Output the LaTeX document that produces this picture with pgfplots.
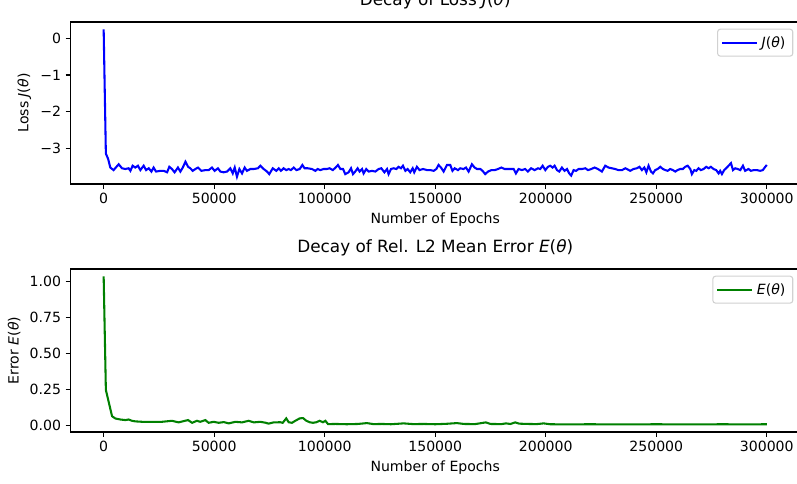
\documentclass[border=0pt]{standalone}
\usepackage{pgfplots}
\pgfplotsset{compat=1.18}
\usepackage{pgfplotstable}
\usepackage{fontspec}
\setmainfont{DejaVu Sans}
\definecolor{mplgreen}{RGB}{0,128,0}
\definecolor{mplblue}{RGB}{0,0,255}

\pgfplotstableread{
x y
0 0.25
1000 -3.15
2000 -3.29
3000 -3.53
4500 -3.60
6800 -3.44
8300 -3.55
9800 -3.57
11300 -3.55
12100 -3.62
13100 -3.48
14300 -3.53
15500 -3.48
16600 -3.60
18100 -3.48
19200 -3.60
20400 -3.55
21600 -3.64
22600 -3.53
23700 -3.64
25600 -3.62
27200 -3.62
28700 -3.66
29700 -3.51
30900 -3.57
32100 -3.66
33600 -3.53
34700 -3.64
35800 -3.53
37000 -3.37
38200 -3.51
39200 -3.55
40300 -3.62
41500 -3.57
42700 -3.53
44200 -3.62
46000 -3.60
47500 -3.60
49000 -3.53
50200 -3.62
51700 -3.55
52800 -3.64
54300 -3.66
55800 -3.64
57300 -3.55
58400 -3.69
59300 -3.53
60300 -3.78
61400 -3.57
62600 -3.69
63800 -3.53
64800 -3.62
66400 -3.57
67900 -3.57
69800 -3.55
70900 -3.48
72400 -3.57
73900 -3.64
74900 -3.71
76500 -3.55
78100 -3.62
79200 -3.55
80200 -3.62
81400 -3.55
82600 -3.60
83700 -3.57
84700 -3.60
86000 -3.53
87200 -3.60
88700 -3.57
89900 -3.46
90900 -3.55
92300 -3.55
94200 -3.57
95800 -3.62
96800 -3.57
98000 -3.60
99500 -3.57
101000 -3.57
102200 -3.55
103700 -3.60
104900 -3.53
106000 -3.46
107100 -3.57
108300 -3.57
109300 -3.71
110800 -3.66
111900 -3.55
112800 -3.71
113800 -3.64
114900 -3.55
115800 -3.64
116900 -3.57
117600 -3.69
118800 -3.57
119900 -3.64
121400 -3.62
122900 -3.64
124400 -3.57
125600 -3.55
127000 -3.66
128200 -3.57
128900 -3.71
130000 -3.57
131200 -3.55
132400 -3.57
133400 -3.51
134500 -3.55
135400 -3.48
136500 -3.62
137500 -3.57
138700 -3.66
139800 -3.55
140500 -3.66
141700 -3.51
142900 -3.60
144500 -3.57
146300 -3.60
147800 -3.60
149300 -3.62
150500 -3.57
151500 -3.46
152600 -3.53
153800 -3.64
155300 -3.46
156800 -3.46
157800 -3.62
158800 -3.55
160300 -3.60
161300 -3.55
162800 -3.57
163900 -3.53
165100 -3.64
166600 -3.44
167800 -3.53
168900 -3.57
170400 -3.57
171400 -3.62
172600 -3.71
173900 -3.64
175400 -3.60
176900 -3.60
178400 -3.57
179900 -3.53
181400 -3.57
183200 -3.57
185500 -3.57
186500 -3.69
187700 -3.57
189200 -3.60
190700 -3.57
191900 -3.64
193400 -3.55
195000 -3.60
196500 -3.55
197500 -3.57
198600 -3.48
199800 -3.60
201000 -3.51
202000 -3.48
203100 -3.53
204000 -3.48
205100 -3.60
206100 -3.64
207300 -3.53
208500 -3.62
209600 -3.57
210600 -3.69
211500 -3.75
212600 -3.60
213700 -3.62
214900 -3.57
216400 -3.57
217900 -3.55
219100 -3.60
220600 -3.57
222100 -3.53
223600 -3.57
225400 -3.64
226900 -3.48
228400 -3.53
229900 -3.55
231400 -3.57
232900 -3.60
234500 -3.60
236000 -3.55
236700 -3.57
238200 -3.62
239700 -3.57
241200 -3.55
242400 -3.51
243500 -3.60
244600 -3.53
245500 -3.66
246500 -3.48
247600 -3.64
248500 -3.69
249500 -3.60
250600 -3.57
251800 -3.51
253000 -3.57
254100 -3.60
255100 -3.62
256300 -3.57
257500 -3.60
258600 -3.64
259600 -3.60
260800 -3.57
262000 -3.57
263100 -3.51
264200 -3.48
265400 -3.57
266100 -3.71
267200 -3.60
268100 -3.62
269100 -3.55
270200 -3.60
271400 -3.57
272600 -3.51
273700 -3.55
274700 -3.51
275900 -3.57
277100 -3.60
278200 -3.69
278900 -3.62
279700 -3.71
280700 -3.60
281600 -3.55
282700 -3.48
283800 -3.41
284700 -3.60
285700 -3.55
286800 -3.57
288000 -3.60
289200 -3.48
290200 -3.62
291700 -3.57
292800 -3.62
294000 -3.60
295500 -3.60
297000 -3.62
298200 -3.60
299300 -3.51
300000 -3.46
}\lossdata

\pgfplotstableread{
x y
0 1.035
1000 0.245
3800 0.062
5300 0.046
7600 0.039
9800 0.035
11300 0.039
12800 0.030
14300 0.026
17400 0.023
20400 0.023
23400 0.022
26400 0.023
30900 0.030
33900 0.019
36200 0.028
38200 0.035
40000 0.016
42200 0.030
43700 0.023
46000 0.035
47500 0.016
49800 0.023
52000 0.016
54300 0.021
56600 0.012
59600 0.023
62600 0.019
65600 0.030
67900 0.019
70900 0.023
73400 0.016
74600 0.010
76900 0.019
79900 0.020
81000 0.016
82600 0.047
83700 0.020
85200 0.016
86700 0.030
88700 0.047
90200 0.049
91700 0.030
93200 0.020
94700 0.016
96200 0.020
97700 0.030
99200 0.020
100300 0.030
101500 0.007
105000 0.008
110000 0.006
115000 0.008
119100 0.014
122000 0.007
126000 0.008
130000 0.006
135700 0.012
140000 0.007
145000 0.008
150000 0.006
155000 0.009
159800 0.014
163000 0.008
168000 0.007
172900 0.019
175000 0.008
180000 0.007
182000 0.012
184000 0.008
186200 0.019
188000 0.010
192000 0.008
196000 0.007
199000 0.012
202000 0.006
210000 0.005
220000 0.006
230000 0.005
240000 0.005
250000 0.006
260000 0.005
270000 0.005
280000 0.006
290000 0.005
300000 0.006
}\errdata

\pgfplotsset{
  mplaxis/.style={
    scale only axis,
    anchor=south west,
    width=547.1pt,
    xmin=-15000, xmax=315000,
    xtick={0,50000,100000,150000,200000,250000,300000},
    xticklabels={0,50000,100000,150000,200000,250000,300000},
    scaled x ticks=false,
    tick align=outside,
    xtick pos=left, ytick pos=left,
    major tick length=3.6pt,
    every tick/.style={black, line width=0.8pt},
    axis line style={line width=0.8pt},
    ticklabel style={font=\fontsize{10.55}{12.5}\selectfont},
    label style={font=\fontsize{10.55}{12.5}\selectfont},
    title style={font=\fontsize{12.65}{15}\selectfont, at={(0.5,1)}, anchor=base, yshift=6.2pt, inner sep=0pt},
    xlabel={Number of Epochs},
    legend style={at={(1,1)}, anchor=north east, xshift=-5pt, yshift=-5pt,
      draw=black!18, line width=0.8pt, rounded corners=2pt, fill=white,
      font=\fontsize{10.55}{12.5}\selectfont, inner xsep=2.5pt, inner ysep=2.5pt,
      nodes={inner xsep=3pt, inner ysep=2.8pt}},
    legend cell align=left,
    legend image code/.code={\path (0pt,0pt) -- (26pt,0pt);\draw[##1, line width=1.55pt] (0pt,0pt) -- (23pt,0pt);},
  }
}

\begin{document}
\begin{tikzpicture}
\useasboundingbox (0,0) rectangle (597.75pt,362.25pt);
\begin{axis}[mplaxis,
  at={(52.875pt,224.25pt)}, height=121.5pt,
  ymin=-3.98, ymax=0.45,
  ytick={-3,-2,-1,0}, yticklabels={−3,−2,−1,0},
  title={Decay of Loss \textit{J}(\textit{θ})},
  ylabel={Loss \textit{J}(\textit{θ})},
]
\addplot[mplblue, line width=1.55pt, mark=none] table[x=x, y=y] {\lossdata};
\addlegendentry{\textit{J}(\textit{θ})}
\end{axis}
\begin{axis}[mplaxis,
  at={(52.875pt,38.25pt)}, height=122.25pt,
  ymin=-0.048, ymax=1.087,
  ytick={0,0.25,0.5,0.75,1}, yticklabels={0.00,0.25,0.50,0.75,1.00},
  title={Decay of Rel. L2 Mean Error \textit{E}(\textit{θ})},
  ylabel={Error \textit{E}(\textit{θ})},
]
\addplot[mplgreen, line width=1.55pt, mark=none] table[x=x, y=y] {\errdata};
\addlegendentry{\textit{E}(\textit{θ})}
\end{axis}
\end{tikzpicture}
\end{document}
